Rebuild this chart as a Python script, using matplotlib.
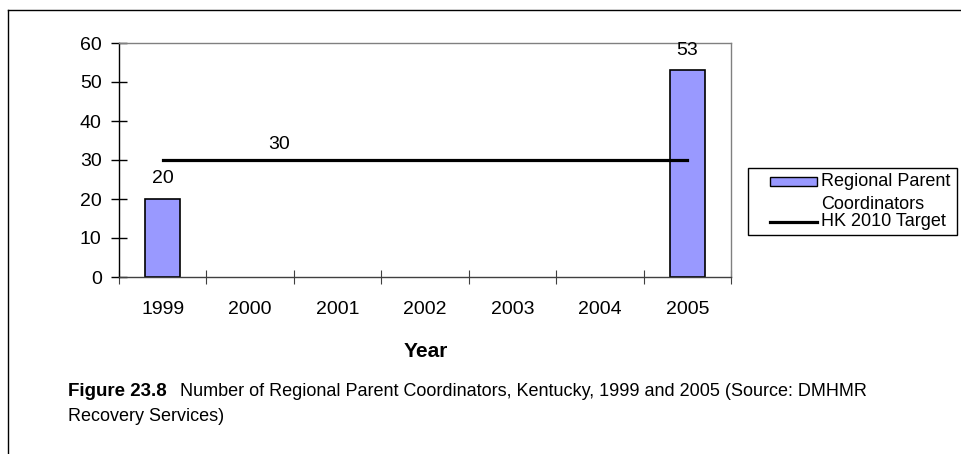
import matplotlib.pyplot as plt
import numpy as np
from matplotlib.lines import Line2D
from matplotlib.patches import Rectangle

plt.rcParams["font.family"] = ["Liberation Sans", "DejaVu Sans"]

years = ["1999", "2000", "2001", "2002", "2003", "2004", "2005"]
coordinators = [20, None, None, None, None, None, 53]
target = 30
target_label_pos = 1.33
series_names = ["Regional Parent\nCoordinators", "HK 2010 Target"]

BAR_COLOR = "#9999ff"

W, H = 961, 454
fig = plt.figure(figsize=(W / 100, H / 100), dpi=100)


def fx(px):
    return px / W


def fy(py):
    return 1 - py / H


ax = fig.add_axes([fx(119), fy(277), (731 - 119) / W, (277 - 43) / H])

x = np.arange(len(years))
bx = [i for i, v in zip(x, coordinators) if v is not None]
bv = [v for v in coordinators if v is not None]
ax.bar(bx, bv, width=0.4, color=BAR_COLOR, edgecolor="black", linewidth=1.2, zorder=2)
for i, v in zip(bx, bv):
    ax.annotate(str(v), (i, v), xytext=(0, 14.5), textcoords="offset points",
                ha="center", va="center", fontsize=14)

ax.plot([x[0], x[-1]], [target, target], color="black", linewidth=2.3, zorder=3)
ax.annotate(str(target), (target_label_pos, target), xytext=(0, 11), textcoords="offset points",
            ha="center", va="center", fontsize=14)

ax.set_xlim(-0.5, len(years) - 0.5)
ax.set_ylim(0, 60)
ax.set_yticks(range(0, 61, 10))
ax.tick_params(axis="y", labelsize=14, length=11, direction="inout", width=1, pad=7)

ax.set_xticks(np.arange(-0.5, len(years), 1.0))
ax.set_xticklabels([])
ax.set_xticks(x, minor=True)
ax.set_xticklabels(years, minor=True, fontsize=14)
ax.tick_params(axis="x", which="major", length=10, direction="inout", color="#404040")
ax.tick_params(axis="x", which="minor", length=0, pad=17)

ax.spines["top"].set_color("#808080")
ax.spines["right"].set_color("#808080")
ax.spines["left"].set_color("black")
ax.spines["bottom"].set_color("#404040")
for s in ax.spines.values():
    s.set_linewidth(1)

fig.text(fx(426), fy(357), "Year", fontsize=15, fontweight="bold", ha="center", va="baseline")

# legend drawn by hand to keep the handle on the first text line
fig.add_artist(Rectangle((fx(748), fy(235)), (957 - 748) / W, (235 - 168) / H,
                         transform=fig.transFigure, facecolor="white", edgecolor="black", linewidth=1))
fig.add_artist(Rectangle((fx(770), fy(186)), (817 - 770) / W, 9 / H,
                         transform=fig.transFigure, facecolor=BAR_COLOR, edgecolor="black", linewidth=1))
fig.add_artist(Line2D([fx(770), fx(817)], [fy(222), fy(222)], color="black", linewidth=2.3,
                      transform=fig.transFigure))
fig.text(fx(821), fy(173), series_names[0], fontsize=13, va="top", ha="left", linespacing=1.45)
fig.text(fx(821), fy(222), series_names[1], fontsize=13, va="center", ha="left")

fig.text(fx(68), fy(396), "Figure 23.8", fontsize=13.5, fontweight="bold", va="baseline")
fig.text(fx(180), fy(396), "Number of Regional Parent Coordinators, Kentucky, 1999 and 2005 (Source: DMHMR",
         fontsize=13, va="baseline")
fig.text(fx(68), fy(421), "Recovery Services)", fontsize=13, va="baseline")

# outer frame (left and top edges only)
fig.add_artist(Line2D([fx(8), fx(8)], [0, fy(10)], color="black", linewidth=1, transform=fig.transFigure))
fig.add_artist(Line2D([fx(8), 1], [fy(10), fy(10)], color="black", linewidth=1, transform=fig.transFigure))

fig.savefig("out.png", dpi=100)
